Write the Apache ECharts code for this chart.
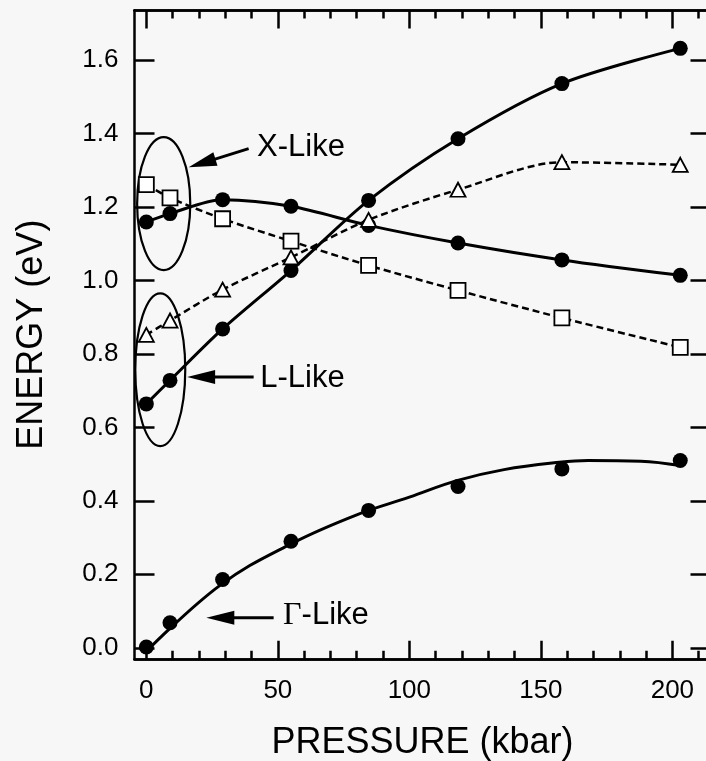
<!DOCTYPE html>
<html>
<head>
<meta charset="utf-8">
<script src="https://cdn.jsdelivr.net/npm/echarts@6/dist/echarts.min.js"></script>
<style>
    html, body { margin: 0; padding: 0; background: #f7f7f7; }
    #chart { width: 706px; height: 761px; }
</style>
</head>
<body>
<div id="chart"></div>
<script>
// pressure (kbar) of the measured points
const pressure = [0, 9, 29, 55, 84.5, 118.5, 158, 203]
// energies (eV)
const gammaLike = [0.002, 0.068, 0.186, 0.290, 0.374, 0.439, 0.487, 0.510]
const lLike = [0.664, 0.728, 0.868, 1.027, 1.218, 1.386, 1.536, 1.632]
const xLike = [1.159, 1.182, 1.220, 1.202, 1.150, 1.102, 1.056, 1.014]
const squares = [1.261, 1.225, 1.168, 1.107, 1.041, 0.973, 0.898, 0.818]
const triangles = [0.852, 0.891, 0.975, 1.063, 1.165, 1.247, 1.322, 1.315]
// fitted curve through the gamma points
const gammaFitP = [0, 28, 55, 80, 100, 118, 136, 157, 168, 188, 203]
const gammaFitE = [-0.01, 0.17, 0.283, 0.362, 0.41, 0.455, 0.485, 0.505, 0.51, 0.508, 0.496]

// ticks
const xMajorTicks = [0, 50, 100, 150, 200]
const xMinorTicks = [10, 20, 30, 40, 60, 70, 80, 90, 110, 120, 130, 140, 160, 170, 180, 190, 210]
const yTicks = [0, 0.2, 0.4, 0.6, 0.8, 1.0, 1.2, 1.4, 1.6]

// annotations: ellipses [cx, cy, rx, ry] in data units, arrows tail -> tip
const ellipses = [[6.6, 1.209, 10.1, 0.181], [5.3, 0.757, 9.5, 0.208]]
const arrowTail = [[38.9, 1.359], [40.8, 0.737], [48.4, 0.082]]
const arrowTip = [[16.1, 1.308], [15.5, 0.737], [22.8, 0.082]]
const labelPos = [[42.1, 1.361], [43.3, 0.732], [52, 0.088]]
const labels = ['X-Like', 'L-Like', '{g|Γ}-Like']

const zip = (xs, ys) => xs.map((x, i) => [x, ys[i]])

const font = 'Liberation Sans'
const black = '#000'

const chart = echarts.init(document.getElementById('chart'))

const axisLine = { show: true, onZero: false, lineStyle: { color: black, width: 2.5 } }
const axisBase = {
    type: 'value',
    min: -4.5,
    max: 214.5,
    splitLine: { show: false },
    axisLine: axisLine,
}
const yBase = {
    type: 'value',
    min: -0.03,
    max: 1.735,
    splitLine: { show: false },
    axisLine: axisLine,
    axisTick: { show: true, inside: true, length: 20, lineStyle: { color: black, width: 2.5 }, customValues: yTicks },
}

const dotSymbol = {
    symbol: 'circle',
    symbolSize: 15,
    itemStyle: { color: black, opacity: 1 },
}
const openStyle = { color: '#fff', borderColor: black, borderWidth: 1.8, opacity: 1 }

function renderEllipse(params, api) {
    const c = api.coord([api.value(0), api.value(1)])
    const s = api.size([api.value(2), api.value(3)])
    return {
        type: 'ellipse',
        shape: { cx: c[0], cy: c[1], rx: s[0], ry: s[1] },
        style: { fill: 'none', stroke: black, lineWidth: 2.2 },
    }
}

function renderArrow(params, api) {
    const i = params.dataIndex
    const a = api.coord(arrowTail[i])
    const b = api.coord(arrowTip[i])
    const t = api.coord(labelPos[i])
    const dx = b[0] - a[0]
    const dy = b[1] - a[1]
    const len = Math.hypot(dx, dy)
    const ux = dx / len
    const uy = dy / len
    const hl = 28
    const hw = 7
    const bx = b[0] - ux * hl
    const by = b[1] - uy * hl
    return {
        type: 'group',
        children: [
            {
                type: 'line',
                shape: { x1: a[0], y1: a[1], x2: bx + ux * 2, y2: by + uy * 2 },
                style: { stroke: black, lineWidth: 3 },
            },
            {
                type: 'polygon',
                shape: { points: [[b[0], b[1]], [bx - uy * hw, by + ux * hw], [bx + uy * hw, by - ux * hw]] },
                style: { fill: black },
            },
            {
                type: 'text',
                x: t[0],
                y: t[1],
                style: {
                    text: labels[i],
                    fontSize: 31,
                    fontFamily: font,
                    fill: black,
                    align: 'left',
                    verticalAlign: 'middle',
                    rich: { g: { fontFamily: 'Liberation Serif', fontSize: 32, fill: black } },
                },
            },
        ],
    }
}

chart.setOption({
    backgroundColor: '#f7f7f7',
    animation: false,
    grid: { left: 134.5, top: 10.5, width: 576, height: 648.3, outerBoundsMode: 'none', containLabel: false },
    xAxis: [
        {
            ...axisBase,
            position: 'bottom',
            name: 'PRESSURE (kbar)',
            nameLocation: 'middle',
            nameGap: 66,
            nameTextStyle: { fontFamily: font, fontSize: 36, color: black },
            axisTick: { show: true, inside: true, length: 18, lineStyle: { color: black, width: 2.5 }, customValues: xMajorTicks },
            axisLabel: { show: true, margin: 19, fontFamily: font, fontSize: 26, color: black, customValues: xMajorTicks },
        },
        {
            ...axisBase,
            position: 'bottom',
            axisTick: { show: true, inside: true, length: 8, lineStyle: { color: black, width: 2.5 }, customValues: xMinorTicks },
            axisLabel: { show: false },
        },
        {
            ...axisBase,
            position: 'top',
            axisTick: { show: true, inside: true, length: 18, lineStyle: { color: black, width: 2.5 }, customValues: xMajorTicks },
            axisLabel: { show: false },
        },
        {
            ...axisBase,
            position: 'top',
            axisTick: { show: true, inside: true, length: 8, lineStyle: { color: black, width: 2.5 }, customValues: xMinorTicks },
            axisLabel: { show: false },
        },
    ],
    yAxis: [
        {
            ...yBase,
            position: 'left',
            name: 'ENERGY (eV)',
            nameLocation: 'middle',
            nameGap: 84,
            nameTextStyle: { fontFamily: font, fontSize: 36, color: black },
            axisLabel: {
                show: true,
                margin: 16,
                fontFamily: font,
                fontSize: 26,
                color: black,
                customValues: yTicks,
                formatter: (v) => v.toFixed(1),
            },
        },
        {
            ...yBase,
            position: 'right',
            axisLabel: { show: false },
        },
    ],
    series: [
        {
            name: 'ellipses',
            type: 'custom',
            renderItem: renderEllipse,
            data: ellipses,
            silent: true,
            z: 1,
        },
        {
            name: 'gamma fit',
            type: 'line',
            data: zip(gammaFitP, gammaFitE),
            smooth: 0.4,
            showSymbol: false,
            symbol: 'none',
            lineStyle: { color: black, width: 3 },
        },
        {
            name: 'Gamma-like',
            type: 'scatter',
            data: zip(pressure, gammaLike),
            ...dotSymbol,
        },
        {
            name: 'L-like',
            type: 'line',
            data: zip(pressure, lLike),
            smooth: 0.3,
            ...dotSymbol,
            lineStyle: { color: black, width: 3 },
        },
        {
            name: 'X-like',
            type: 'line',
            data: zip(pressure, xLike),
            smooth: 0.3,
            ...dotSymbol,
            lineStyle: { color: black, width: 3 },
        },
        {
            name: 'squares',
            type: 'line',
            data: zip(pressure, squares),
            smooth: 0.3,
            symbol: 'rect',
            symbolSize: 15,
            itemStyle: openStyle,
            lineStyle: { color: black, width: 2.5, type: [7, 4] },
        },
        {
            name: 'triangles',
            type: 'line',
            data: zip(pressure, triangles),
            smooth: 0.3,
            symbol: 'triangle',
            symbolSize: [15, 14],
            itemStyle: openStyle,
            lineStyle: { color: black, width: 2.5, type: [7, 4] },
        },
        {
            name: 'arrows',
            type: 'custom',
            renderItem: renderArrow,
            data: arrowTip,
            silent: true,
            z: 5,
        },
    ],
})
</script>
</body>
</html>
